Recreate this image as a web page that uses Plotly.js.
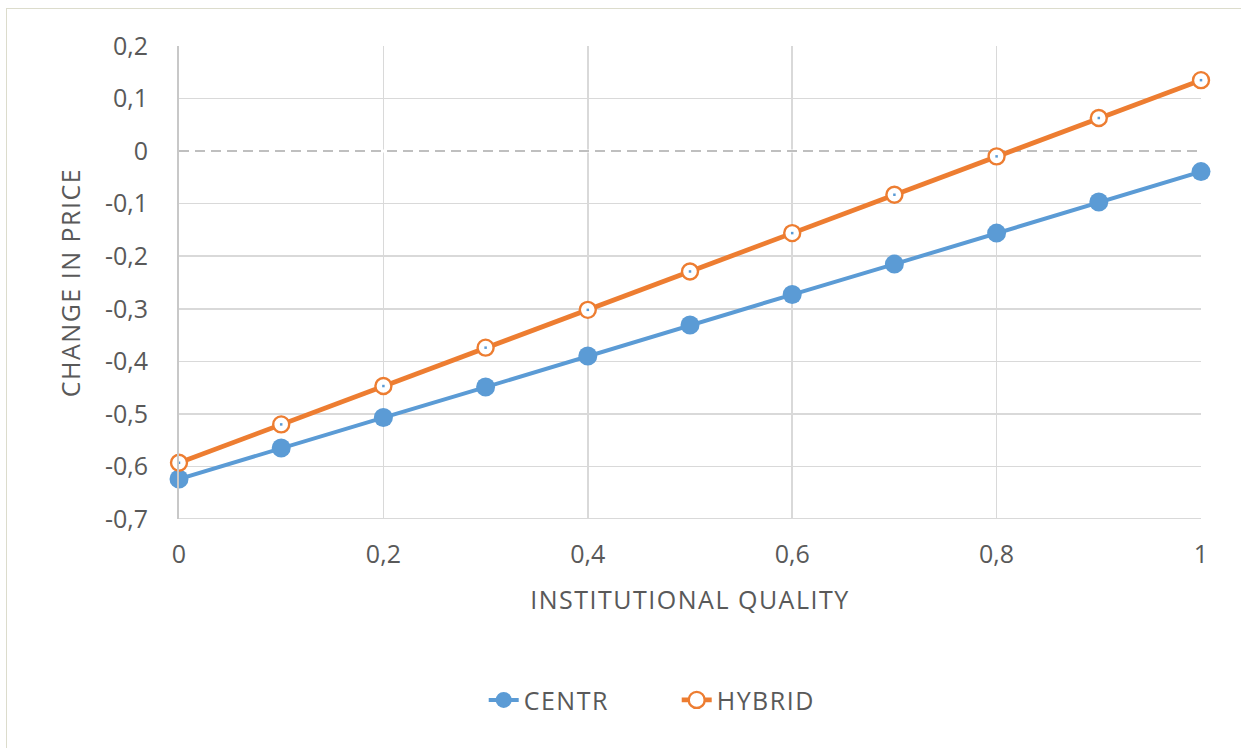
<!DOCTYPE html>
<html>
<head>
<meta charset="utf-8">
<script src="https://cdn.plot.ly/plotly-3.0.1.min.js"></script>
<style>
  html, body { margin: 0; padding: 0; background: #fff; }
  #wrap { position: relative; width: 1241px; height: 748px; }
  #frame { position: absolute; left: 6px; top: 8px; width: 1235px; height: 740px;
           border-left: 1.5px solid #dcdccc; border-top: 1.5px solid #dcdccc; pointer-events: none; }
  #chart { position: absolute; left: 0; top: 0; width: 1241px; height: 748px; }
  #chart .g-xtitle text, #chart .g-ytitle text, #chart .legendtext { letter-spacing: 1.5px; }
</style>
</head>
<body>
<div id="wrap">
  <div id="chart"></div>
  <div id="frame"></div>
</div>
<script>
// Data
const quality = [0, 0.1, 0.2, 0.3, 0.4, 0.5, 0.6, 0.7, 0.8, 0.9, 1.0];
const centr  = [-0.624, -0.565, -0.507, -0.449, -0.390, -0.331, -0.273, -0.215, -0.156, -0.097, -0.039];
const hybrid = [-0.593, -0.520, -0.447, -0.374, -0.302, -0.229, -0.156, -0.083, -0.010, 0.063, 0.135];

const xTickVals = [0, 0.2, 0.4, 0.6, 0.8, 1];
const xTickText = ["0", "0,2", "0,4", "0,6", "0,8", "1"];
const yTickVals = [0.2, 0.1, 0, -0.1, -0.2, -0.3, -0.4, -0.5, -0.6, -0.7];
const yTickText = ["0,2", "0,1", "0", "-0,1", "-0,2", "-0,3", "-0,4", "-0,5", "-0,6", "-0,7"];

const seriesNames = ["CENTR", "HYBRID"];
const xTitle = "INSTITUTIONAL QUALITY";
const yTitle = "CHANGE IN PRICE";

const BLUE = "#5B9BD5";
const ORANGE = "#ED7D31";
const TXT = "#595959";
const FONT = "'Open Sans', Lato, sans-serif";
const FS = 25;

const traces = [
  {
    x: quality, y: centr, name: seriesNames[0], type: "scatter", mode: "lines+markers",
    cliponaxis: false,
    line: { color: BLUE, width: 4 },
    marker: { color: BLUE, size: 19, symbol: "circle" }
  },
  {
    x: quality, y: hybrid, name: seriesNames[1], type: "scatter", mode: "lines+markers",
    cliponaxis: false,
    line: { color: ORANGE, width: 4.8 },
    marker: { color: "#ffffff", size: 16, symbol: "circle", line: { color: ORANGE, width: 2.4 } }
  },
  {
    x: quality, y: hybrid, type: "scatter", mode: "markers", showlegend: false, hoverinfo: "skip",
    cliponaxis: false,
    marker: { color: BLUE, size: 2.5, symbol: "square" }
  }
];

const layout = {
  width: 1241, height: 748,
  margin: { l: 179, r: 40, t: 46, b: 229 },
  paper_bgcolor: "rgba(0,0,0,0)",
  plot_bgcolor: "#ffffff",
  font: { family: FONT, color: TXT, size: FS },
  showlegend: true,
  legend: {
    orientation: "h", x: 0.487, xanchor: "center", y: -0.383, yanchor: "middle",
    font: { family: FONT, size: FS, color: TXT }, traceorder: "normal",
    entrywidth: 148, entrywidthmode: "pixels"
  },
  xaxis: {
    range: [0, 1], tickvals: xTickVals, ticktext: xTickText,
    showgrid: true, gridcolor: "#D9D9D9", gridwidth: 1.5,
    zeroline: false, showline: false,
    ticks: "", ticklabelstandoff: 18,
    tickfont: { family: FONT, size: FS, color: TXT },
    title: { text: xTitle, font: { family: FONT, size: FS, color: TXT }, standoff: 22 }
  },
  yaxis: {
    range: [-0.7, 0.2], tickvals: yTickVals, ticktext: yTickText,
    showgrid: true, gridcolor: "#D9D9D9", gridwidth: 1.5,
    zeroline: false, showline: true, linecolor: "#C8C8C8", linewidth: 2,
    ticks: "", ticklabelstandoff: 24,
    tickfont: { family: FONT, size: FS, color: TXT },
    title: { text: yTitle, font: { family: FONT, size: FS, color: TXT }, standoff: 17 }
  },
  shapes: [
    { type: "line", xref: "x", yref: "y", x0: 0, x1: 1, y0: 0, y1: 0,
      line: { color: "#ffffff", width: 3 }, layer: "between" },
    { type: "line", xref: "x", yref: "y", x0: 0, x1: 1, y0: 0, y1: 0,
      line: { color: "#BFBFBF", width: 2, dash: "10px,6px" }, layer: "between" },
    { type: "line", xref: "x", yref: "y", x0: 0, x1: 1, y0: -0.7, y1: -0.7,
      line: { color: "#D9D9D9", width: 2 }, layer: "between" }
  ]
};

Plotly.newPlot("chart", traces, layout, { displayModeBar: false, staticPlot: true });
</script>
</body>
</html>
